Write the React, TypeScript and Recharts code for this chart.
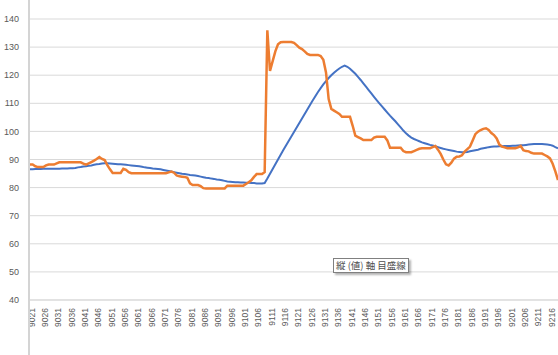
import React from "react";
import { LineChart, Line, XAxis, YAxis, CartesianGrid } from "recharts";

const categories: string[] = Array.from({ length: 199 }, (_, i) => String(9021 + i));

const seriesBlue: number[] = [
  86.5, 86.5, 86.6, 86.6, 86.6, 86.7, 86.7, 86.7, 86.7, 86.7,
  86.7, 86.7, 86.8, 86.8, 86.8, 86.9, 86.9, 87.0, 87.2, 87.3,
  87.5, 87.6, 87.8, 87.9, 88.1, 88.3, 88.4, 88.6, 88.7, 88.7,
  88.6, 88.5, 88.4, 88.3, 88.3, 88.2, 88.1, 88.0, 87.9, 87.8,
  87.7, 87.6, 87.4, 87.2, 87.1, 87.0, 86.8, 86.7, 86.6, 86.5,
  86.3, 86.1, 85.9, 85.7, 85.5, 85.3, 85.1, 84.9, 84.8, 84.7,
  84.5, 84.4, 84.3, 84.1, 83.9, 83.7, 83.5, 83.4, 83.2, 83.1,
  82.9, 82.8, 82.6, 82.4, 82.2, 82.1, 82.0, 81.9, 81.9, 81.8,
  81.8, 81.7, 81.7, 81.6, 81.6, 81.5, 81.5, 81.5, 81.6, 83.2,
  84.9, 86.6, 88.3, 90.0, 91.7, 93.4, 95.0, 96.6, 98.2, 99.8,
  101.4, 103.0, 104.6, 106.2, 107.8, 109.4, 111.0, 112.5, 114.0, 115.4,
  116.7, 117.9, 119.0, 120.0, 120.9, 121.7, 122.4, 123.0, 123.4, 123.0,
  122.3, 121.4, 120.5, 119.4, 118.3, 117.1, 115.9, 114.7, 113.5, 112.3,
  111.1, 110.0, 108.9, 107.8, 106.7, 105.6, 104.6, 103.6, 102.5, 101.4,
  100.3, 99.3, 98.5, 97.8, 97.3, 96.9, 96.5, 96.1, 95.8, 95.5,
  95.2, 95.0, 94.7, 94.4, 94.1, 93.8, 93.6, 93.4, 93.2, 93.0,
  92.8, 92.7, 92.6, 92.6, 92.7, 92.9, 93.1, 93.3, 93.5, 93.8,
  94.0, 94.2, 94.4, 94.5, 94.6, 94.6, 94.7, 94.7, 94.8, 94.8,
  94.8, 94.9, 94.9, 95.0, 95.1, 95.1, 95.2, 95.3, 95.4, 95.5,
  95.5, 95.5, 95.5, 95.4, 95.3, 95.2, 94.9, 94.4, 94.0,
];

const seriesOrange: number[] = [
  88.2, 88.2, 87.6, 87.3, 87.3, 87.3, 87.9, 88.2, 88.2, 88.2,
  88.6, 89.0, 89.0, 89.0, 89.0, 89.0, 89.0, 89.0, 89.0, 89.0,
  88.5, 88.2, 88.6, 89.1, 89.6, 90.2, 90.9, 90.2, 89.8, 88.0,
  86.5, 85.2, 85.2, 85.2, 85.2, 86.7, 86.3, 85.5, 85.1, 85.1,
  85.1, 85.1, 85.1, 85.1, 85.1, 85.1, 85.1, 85.1, 85.1, 85.1,
  85.1, 85.1, 85.4, 85.7, 85.3, 84.3, 84.0, 83.9, 83.8, 83.5,
  81.5, 80.9, 80.9, 80.9, 80.5, 79.8, 79.7, 79.7, 79.7, 79.7,
  79.7, 79.7, 79.7, 79.7, 80.7, 80.7, 80.7, 80.7, 80.7, 80.7,
  80.7, 81.3, 81.9, 82.6, 83.8, 84.8, 84.8, 84.8, 85.5, 136.0,
  121.5, 125.0, 128.5, 131.0, 131.7, 131.8, 131.8, 131.8, 131.8, 131.5,
  130.7, 129.8, 129.3, 128.5, 127.6, 127.2, 127.2, 127.2, 127.2, 126.8,
  125.5, 121.0, 111.5, 108.0, 107.4, 106.8, 106.2, 105.2, 105.2, 105.2,
  105.2, 102.0, 98.5, 98.0, 97.5, 96.9, 96.9, 96.9, 96.9, 97.8,
  98.1, 98.1, 98.1, 98.1, 96.8, 94.2, 94.2, 94.2, 94.2, 94.2,
  93.0, 92.6, 92.6, 92.6, 93.0, 93.4, 93.8, 94.0, 94.0, 94.0,
  94.0, 94.4, 94.8, 93.5, 92.0, 90.0, 88.3, 87.9, 88.9, 90.3,
  91.0, 91.1, 91.5, 92.8, 93.7, 94.6, 96.8, 99.0, 99.9, 100.5,
  100.9, 101.1, 100.5, 99.4, 98.7, 97.5, 95.3, 94.6, 94.3, 94.0,
  94.0, 94.0, 94.0, 94.3, 94.8, 93.3, 93.0, 92.9, 92.4, 92.1,
  92.1, 92.1, 92.1, 91.6, 91.1, 90.4, 88.5, 85.8, 82.7,
];

const yTicks: number[] = [40, 50, 60, 70, 80, 90, 100, 110, 120, 130, 140];
const tooltipText = "縦 (値) 軸 目盛線";

const data = categories.map((c, i) => ({
  cat: c,
  blue: seriesBlue[i],
  orange: seriesOrange[i],
}));

const XTick = (props: any) => {
  const { x, y, payload } = props;
  return (
    <g transform={`translate(${x + 1.7},${y})`}>
      <text
        transform="rotate(-90)"
        textAnchor="end"
        dy="0.35em"
        fontSize={8.5}
        fill="#595959"
        fontFamily="'Liberation Sans', Arial, sans-serif"
      >
        {payload.value}
      </text>
    </g>
  );
};

export default function App() {
  return (
    <div
      style={{
        position: "fixed",
        left: 0,
        top: 0,
        width: 558,
        height: 355,
        background: "#ffffff",
        overflow: "hidden",
      }}
    >
      <LineChart
        width={558}
        height={355}
        data={data}
        margin={{ top: 19, right: 0, bottom: 15, left: 0 }}
      >
        <CartesianGrid horizontal vertical={false} stroke="#d9d9d9" strokeWidth={1} />
        <XAxis
          dataKey="cat"
          interval={4}
          height={40}
          tickLine={false}
          tickSize={6}
          tickMargin={2}
          axisLine={{ stroke: "#d9d9d9" }}
          tick={<XTick />}
        />
        <YAxis
          domain={[40, 140]}
          ticks={yTicks}
          width={30}
          axisLine={false}
          tickLine={false}
          tickSize={6}
          tickMargin={5}
          tick={{ fontSize: 9, fill: "#595959", fontFamily: "'Liberation Sans', Arial, sans-serif" }}
        />
        <Line
          type="linear"
          dataKey="blue"
          name="系列1"
          stroke="#4472C4"
          strokeWidth={2}
          dot={false}
          isAnimationActive={false}
        />
        <Line
          type="linear"
          dataKey="orange"
          name="系列2"
          stroke="#ED7D31"
          strokeWidth={2.5}
          dot={false}
          isAnimationActive={false}
        />
      </LineChart>
      <div
        style={{
          position: "absolute",
          left: 28,
          top: 0,
          width: 2,
          height: 355,
          background: "#d4d4d4",
        }}
      />
      <div
        style={{
          position: "absolute",
          left: 333,
          top: 258,
          height: 13,
          padding: "0 2px",
          border: "1px solid #808080",
          background: "#ffffff",
          boxShadow: "2px 2px 2px rgba(0,0,0,0.3)",
          fontSize: 9.5,
          lineHeight: "13px",
          color: "#505050",
          fontFamily: "'Noto Sans CJK JP', sans-serif",
          whiteSpace: "nowrap",
        }}
      >
        {tooltipText}
      </div>
    </div>
  );
}
